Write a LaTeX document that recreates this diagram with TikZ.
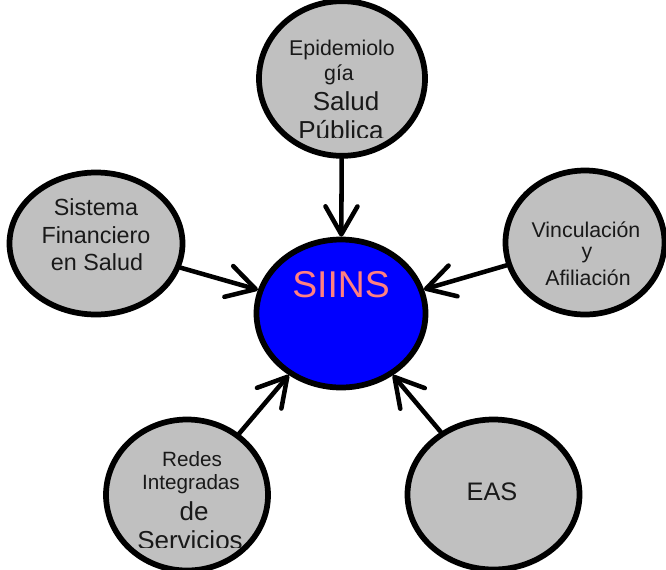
\documentclass[tikz,border=0pt]{standalone}
\usepackage{fontspec}
\setmainfont{Liberation Sans}
\usetikzlibrary{shapes.geometric,arrows.meta}
\definecolor{ovgray}{HTML}{C0C0C0}
\definecolor{ovblue}{HTML}{0000FF}
\definecolor{ovpink}{HTML}{FF8080}
\begin{document}
\begin{tikzpicture}[x=0.75pt,y=-0.75pt,
  oval/.style={ellipse,draw=black,line width=4.3pt,fill=ovgray,inner sep=0pt},
  lbl/.style={inner sep=0pt,anchor=base,text=black!90},
  conn/.style={line width=3.4pt,line cap=round,-{Straight Barb[length=21pt,width=24pt,round]}}]
\useasboundingbox (0,0) rectangle (666,569);
\clip (0,0) rectangle (666,569);
% ovals
\node[oval,minimum width=124.5pt,minimum height=116pt] (epi) at (342,78.5) {};
\node[oval,minimum width=129.75pt,minimum height=106.5pt] (sist) at (96,243.5) {};
\node[oval,minimum width=119.25pt,minimum height=108pt] (vinc) at (585,242.5) {};
\node[oval,minimum width=121.5pt,minimum height=113.25pt] (redes) at (187,495) {};
\node[oval,minimum width=129pt,minimum height=112.5pt] (eas) at (493.5,494.5) {};
\node[oval,fill=ovblue,minimum width=126.75pt,minimum height=111pt] (siins) at (341,313.5) {};
% connectors
\draw[conn] (epi) -- (siins);
\draw[conn] (sist) -- (siins);
\draw[conn] (vinc) -- (siins);
\draw[conn] (redes) -- (siins);
\draw[conn] (eas) -- (siins);
% texts
\node[lbl,font=\fontsize{16}{19}\selectfont] (t1) at (342,55) {Epidemiolo};
\node[lbl,font=\fontsize{16}{19}\selectfont] (t2) at (339,80) {gía};
\node[lbl,font=\fontsize{19.5}{23}\selectfont] (t3) at (346,110) {Salud};
\begin{scope}
\clip (250,112) rectangle (430,137);
\node[lbl,font=\fontsize{19.5}{23}\selectfont] (t4) at (341,139) {Pública};
\end{scope}
\node[lbl,font=\fontsize{17.5}{21}\selectfont] (s1) at (96,215) {Sistema};
\node[lbl,font=\fontsize{17.5}{21}\selectfont] (s2) at (96,243) {Financiero};
\node[lbl,font=\fontsize{17.5}{21}\selectfont] (s3) at (97,270) {en Salud};
\node[lbl,font=\fontsize{16}{19}\selectfont] (v1) at (586,237) {Vinculación};
\node[lbl,font=\fontsize{16}{19}\selectfont] (v2) at (587,258) {y};
\node[lbl,font=\fontsize{16}{19}\selectfont] (v3) at (588,285) {Afiliación};
\node[lbl,font=\fontsize{28}{34}\selectfont,text=ovpink] (c1) at (341,297) {SIINS};
\node[lbl,font=\fontsize{15.5}{18}\selectfont] (r1) at (192,466) {Redes};
\node[lbl,font=\fontsize{15.5}{18}\selectfont] (r2) at (191,489) {Integradas};
\node[lbl,font=\fontsize{19.5}{23}\selectfont] (r3) at (194,520) {de};
\begin{scope}
\clip (100,522) rectangle (280,547);
\node[lbl,font=\fontsize{19.5}{23}\selectfont] (r4) at (190,549) {Servicios};
\end{scope}
\node[lbl,font=\fontsize{19}{23}\selectfont] (e1) at (492,500) {EAS};
\end{tikzpicture}
\end{document}
